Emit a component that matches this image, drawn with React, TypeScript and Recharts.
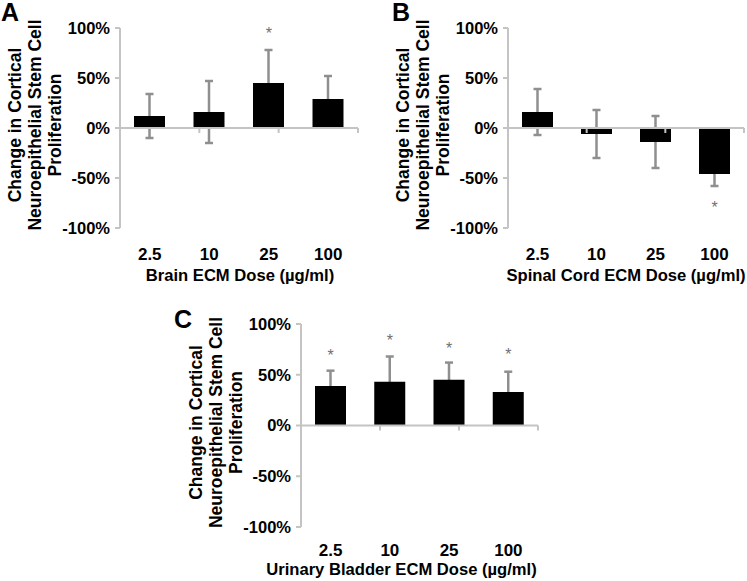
import React from 'react';
import { ComposedChart, Bar, ErrorBar, XAxis, YAxis, ReferenceLine, Scatter, Label } from 'recharts';

const doses = ['2.5', '10', '25', '100'];
const brainMean = [12, 16, 45, 29];
const brainErr = [22, 31, 33, 23];
const brainStars = [{ dose: '25', star: 98 }];
const spinalMean = [16, -6, -14, -46];
const spinalErr = [23, 24, 26, 12];
const spinalStars = [{ dose: '100', star: -76 }];
const bladderMean = [39, 43, 45, 33];
const bladderErr = [15, 25, 17, 20];
const bladderStars = [
  { dose: '2.5', star: 72 },
  { dose: '10', star: 87 },
  { dose: '25', star: 79 },
  { dose: '100', star: 73 },
];
const yTicks = [-100, -50, 0, 50, 100];
const boundaries = [1, 2, 3, 4];
const yLabelLines = ['Change in Cortical', 'Neuroepithelial Stem Cell', 'Proliferation'];

const FONT = '"Liberation Sans", Arial, sans-serif';
const AXIS = '#c4c4c4';
const ERR = '#8f8f8f';

type PanelProps = {
  left: number;
  top: number;
  width: number;
  height: number;
  marginTop: number;
  marginRight: number;
  yWidth: number;
  xHeight: number;
  tickOffset: number;
  titleOffset: number;
  titleDx: number;
  means: number[];
  errs: number[];
  stars: { dose: string; star: number }[];
  title: string;
};

function Panel(p: PanelProps) {
  const data = doses.map((d, i) => ({ dose: d, mean: p.means[i], err: p.errs[i] }));
  const margin = { top: p.marginTop, right: p.marginRight, bottom: 0, left: 0 };
  return (
    <div style={{ position: 'absolute', left: p.left, top: p.top, width: p.width, height: p.height }}>
      {/* back layer: error bars only, drawn behind the bars */}
      <div style={{ position: 'absolute', left: 0, top: 0 }}>
        <ComposedChart width={p.width} height={p.height} data={data} margin={margin}>
          <XAxis
            dataKey="dose"
            type="category"
            height={p.xHeight}
            axisLine={false}
            tickLine={false}
            tick={false}
          />
          <YAxis domain={[-100, 100]} ticks={yTicks} width={p.yWidth} axisLine={false} tickLine={false} tick={false} />
          <Bar dataKey="mean" fill="transparent" barSize={31} isAnimationActive={false}>
            <ErrorBar dataKey="err" width={4} stroke={ERR} strokeWidth={2.5} direction="y" />
          </Bar>
        </ComposedChart>
      </div>
      {/* front layer: axes, bars, stars */}
      <div style={{ position: 'absolute', left: 0, top: 0 }}>
        <ComposedChart width={p.width} height={p.height} data={data} margin={margin}>
          <XAxis
            xAxisId="front"
            dataKey="dose"
            type="category"
            allowDuplicatedCategory={false}
            height={p.xHeight}
            axisLine={false}
            tickLine={false}
            tickSize={p.tickOffset}
            tickMargin={2}
            tick={{ fill: '#000', fontSize: 17, fontWeight: 700, fontFamily: FONT }}
          >
            <Label
              content={(props: any) => {
                const vb = props.viewBox;
                return (
                  <text
                    x={vb.x + vb.width / 2 + p.titleDx}
                    y={vb.y + p.titleOffset}
                    textAnchor="middle"
                    fill="#000"
                    fontSize={16.6}
                    fontWeight={700}
                    fontFamily={FONT}
                  >
                    {p.title}
                  </text>
                );
              }}
            />
          </XAxis>
          <XAxis xAxisId="num" type="number" domain={[0, 4]} hide allowDataOverflow height={0} />
          <YAxis
            domain={[-100, 100]}
            ticks={yTicks}
            width={p.yWidth}
            tickFormatter={(v: number) => `${v}%`}
            axisLine={{ stroke: AXIS, strokeWidth: 2 }}
            tickLine={{ stroke: AXIS, strokeWidth: 2 }}
            tickSize={5}
            tickMargin={5}
            tick={{ fill: '#000', fontSize: 16.5, fontWeight: 700, fontFamily: FONT }}
          >
            <Label
              content={(props: any) => {
                const vb = props.viewBox;
                const ax = vb.x + vb.width;
                const cy = vb.y + vb.height / 2 - 3;
                const offs = [-105, -85, -65];
                return (
                  <g>
                    {yLabelLines.map((line, i) => (
                      <text
                        key={i}
                        x={ax + offs[i]}
                        y={cy}
                        transform={`rotate(-90, ${ax + offs[i]}, ${cy})`}
                        textAnchor="middle"
                        dominantBaseline="central"
                        fill="#000"
                        fontSize={17.5}
                        fontWeight={700}
                        fontFamily={FONT}
                      >
                        {line}
                      </text>
                    ))}
                  </g>
                );
              }}
            />
          </YAxis>
          <ReferenceLine xAxisId="front" y={0} stroke={AXIS} strokeWidth={2} />
          {boundaries.map((b) => (
            <ReferenceLine
              key={b}
              xAxisId="num"
              segment={[
                { x: b, y: 0 },
                { x: b, y: -5 },
              ]}
              stroke={AXIS}
              strokeWidth={2}
            />
          ))}
          <Bar xAxisId="front" dataKey="mean" fill="#000" barSize={31} isAnimationActive={false} />
          <Scatter
            xAxisId="front"
            data={p.stars}
            dataKey="star"
            isAnimationActive={false}
            shape={(sp: any) => (
              <text
                x={sp.cx}
                y={sp.cy + 9}
                textAnchor="middle"
                fill="#707070"
                fontSize={16}
                fontFamily={FONT}
              >
                *
              </text>
            )}
          />
        </ComposedChart>
      </div>
    </div>
  );
}

const letterStyle: React.CSSProperties = {
  position: 'absolute',
  fontFamily: FONT,
  fontWeight: 700,
  fontSize: 25,
  lineHeight: '25px',
  color: '#000',
};

export default function App() {
  return (
    <div style={{ position: 'absolute', left: 0, top: 0, width: 747, height: 581, background: '#fff', overflow: 'hidden' }}>
      <Panel
        left={0}
        top={0}
        width={373}
        height={290}
        marginTop={28}
        marginRight={15}
        yWidth={120}
        xHeight={62}
        tickOffset={18}
        titleOffset={53}
        titleDx={1}
        means={brainMean}
        errs={brainErr}
        stars={brainStars}
        title="Brain ECM Dose (µg/ml)"
      />
      <Panel
        left={373}
        top={0}
        width={374}
        height={290}
        marginTop={28}
        marginRight={3}
        yWidth={135}
        xHeight={62}
        tickOffset={18}
        titleOffset={53}
        titleDx={0}
        means={spinalMean}
        errs={spinalErr}
        stars={spinalStars}
        title="Spinal Cord ECM Dose (µg/ml)"
      />
      <Panel
        left={180}
        top={290}
        width={567}
        height={291}
        marginTop={34}
        marginRight={209}
        yWidth={121}
        xHeight={54}
        tickOffset={15}
        titleOffset={48}
        titleDx={-18}
        means={bladderMean}
        errs={bladderErr}
        stars={bladderStars}
        title="Urinary Bladder ECM Dose (µg/ml)"
      />
      <div style={{ ...letterStyle, left: 1, top: 0 }}>A</div>
      <div style={{ ...letterStyle, left: 392, top: 0 }}>B</div>
      <div style={{ ...letterStyle, left: 174, top: 307 }}>C</div>
    </div>
  );
}
